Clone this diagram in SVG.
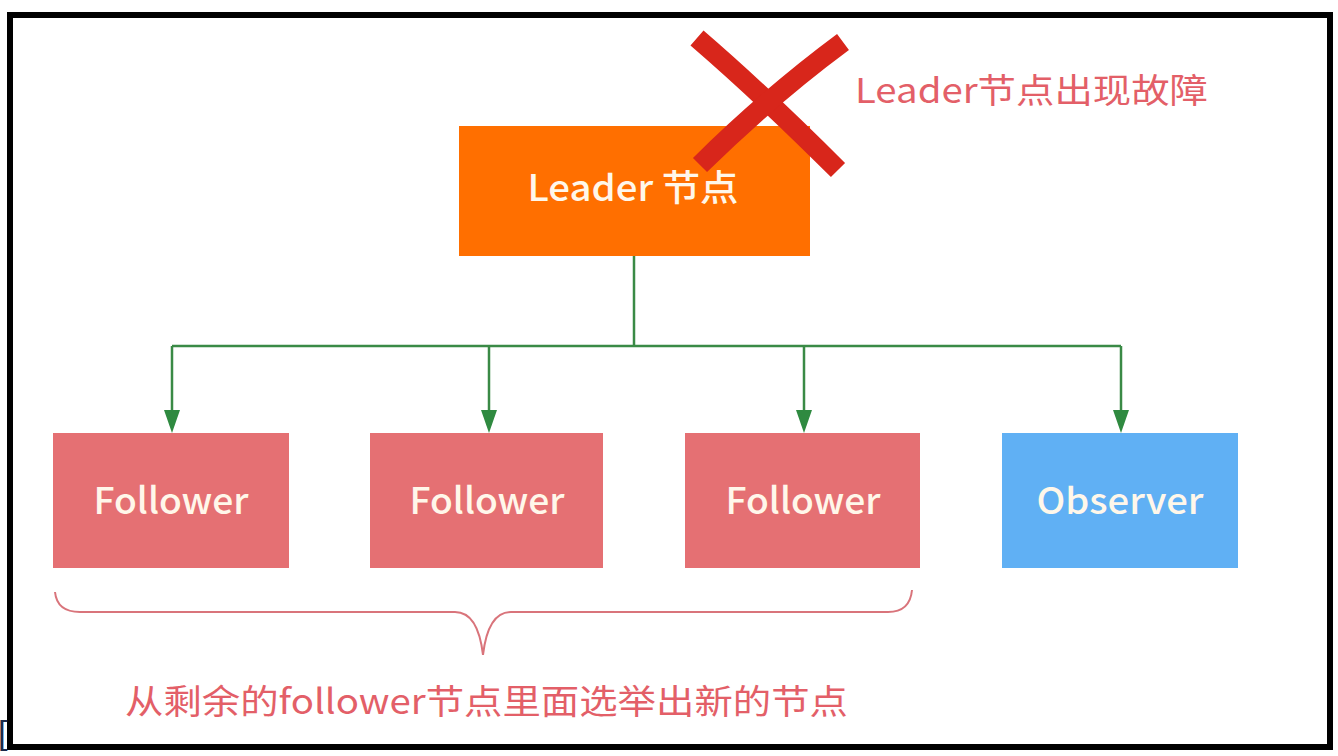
<svg xmlns="http://www.w3.org/2000/svg" width="1338" height="756" viewBox="0 0 1338 756">
  <style>
    .lbl { font-family: "Noto Sans CJK SC", "Liberation Sans", sans-serif; text-anchor: middle; font-weight: 500; }
    .node-text { fill: #fff7ea; font-size: 36px; }
    .note { fill: #e35f68; font-family: "Noto Sans CJK SC", "Liberation Sans", sans-serif; font-size: 34px; }
    .edge { fill: none; stroke: #3a8a46; stroke-width: 2.5; }
    .head { fill: #2f8a40; }
  </style>
  <rect width="1338" height="756" fill="#ffffff"/>
  <rect x="10" y="15" width="1320" height="732" fill="none" stroke="#000000" stroke-width="6"/>
  <text x="-2" y="744" font-family="Liberation Sans, sans-serif" font-size="34" fill="#1a2a4a">[</text>

  <g id="connectors">
    <path class="edge" d="M634,256 L634,346"/>
    <path class="edge" d="M172,346 L1121,346"/>
    <path class="edge" d="M172,346 L172,415"/>
    <path class="edge" d="M489,346 L489,415"/>
    <path class="edge" d="M804,346 L804,415"/>
    <path class="edge" d="M1121,346 L1121,415"/>
    <path class="head" d="M164,410 L180,410 L172,433 Z"/>
    <path class="head" d="M481,410 L497,410 L489,433 Z"/>
    <path class="head" d="M796,410 L812,410 L804,433 Z"/>
    <path class="head" d="M1113,410 L1129,410 L1121,433 Z"/>
  </g>

  <g id="leader">
    <rect x="459" y="126" width="351" height="130" fill="#ff6f00"/>
    <text class="lbl node-text" x="633" y="201" font-size="34" textLength="211" lengthAdjust="spacingAndGlyphs">Leader 节点</text>
  </g>

  <g id="failure-mark">
    <path d="M697,38 Q762,94 838,170" fill="none" stroke="#d8261b" stroke-width="20"/>
    <path d="M843,42 Q770,96 700,165" fill="none" stroke="#d8261b" stroke-width="20"/>
  </g>

  <g id="failure-note">
    <text class="note" x="855" y="103" textLength="353" lengthAdjust="spacingAndGlyphs">Leader节点出现故障</text>
  </g>

  <g id="follower1">
    <rect x="53" y="433" width="236" height="135" fill="#e57073"/>
    <text class="lbl node-text" x="171" y="514" textLength="155" lengthAdjust="spacingAndGlyphs">Follower</text>
  </g>
  <g id="follower2">
    <rect x="370" y="433" width="233" height="135" fill="#e57073"/>
    <text class="lbl node-text" x="487" y="514" textLength="155" lengthAdjust="spacingAndGlyphs">Follower</text>
  </g>
  <g id="follower3">
    <rect x="685" y="433" width="235" height="135" fill="#e57073"/>
    <text class="lbl node-text" x="803" y="514" textLength="155" lengthAdjust="spacingAndGlyphs">Follower</text>
  </g>
  <g id="observer">
    <rect x="1002" y="433" width="236" height="135" fill="#60b0f4"/>
    <text class="lbl node-text" x="1120" y="514" fill="#f0f8ff" textLength="167" lengthAdjust="spacingAndGlyphs">Observer</text>
  </g>

  <g id="brace">
    <path d="M55,592 Q57,612 80,612 L455,612 Q478,612 483,655 Q488,612 511,612 L888,612 Q910,612 912,590" fill="none" stroke="#d9747b" stroke-width="2"/>
  </g>

  <g id="election-note">
    <text class="note" x="125" y="714" textLength="723" lengthAdjust="spacingAndGlyphs" font-size="35">从剩余的follower节点里面选举出新的节点</text>
  </g>
</svg>
